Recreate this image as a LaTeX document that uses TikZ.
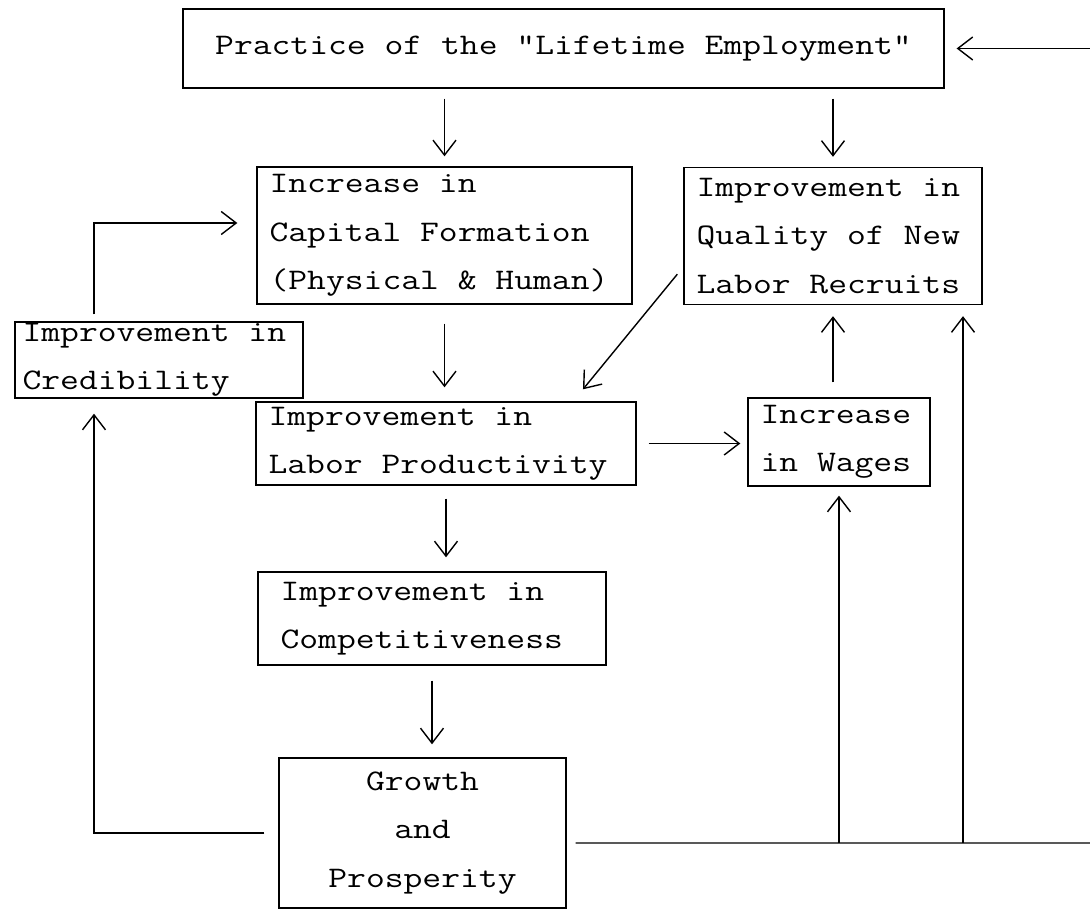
\documentclass[tikz,border=0pt]{standalone}
\usepackage{fontspec}
\setmonofont[FakeStretch=1.224]{Latin Modern Mono}
\usetikzlibrary{arrows.meta}

\tikzset{
  box/.style={rectangle, draw, thick,
    inner xsep=0.25cm, inner ysep=0pt, align=left,
    execute at begin node={\spaceskip=0pt\xspaceskip=0pt\relax}},
  >={Straight Barb[length=3mm,width=4.6mm]}
}

\begin{document}
\begin{tikzpicture}[x=0.02cm, y=-0.02cm, thick,
  font=\ttfamily\fontsize{17}{27.5}\selectfont]

    \useasboundingbox (0,0) rectangle (1090,911);

    \node[box, align=center,
    minimum width=15.22cm,
    minimum height=1.58cm] (prac) at (563.5,48.5)
    {Practice of the "Lifetime Employment"};

    \node[box, text width=7cm,
    minimum height=2.74cm] (cap) at (444.5,235.5)
    {Increase in\\Capital Formation\\(Physical \& Human)};

    \node[box, text width=5.46cm,
    minimum height=2.74cm] (qual) at (833,236)
    {Improvement in\\Quality of New\\Labor Recruits};

    \node[box, inner xsep=0.15cm, text width=5.46cm,
    minimum height=1.52cm] (cred) at (159,360)
    {Improvement in\\Credibility};

    \node[box, text width=7.1cm,
    minimum height=1.66cm] (prod) at (446,443.5)
    {Improvement in\\Labor Productivity};

    \node[box, text width=3.14cm,
    minimum height=1.76cm] (wage) at (839,442)
    {Increase\\in Wages};

    \node[box, inner xsep=0.45cm, text width=6.06cm,
    minimum height=1.86cm] (comp) at (432,618.5)
    {Improvement in\\Competitiveness};

    \node[box, align=center, text width=5.24cm,
    minimum height=3cm] (grow) at (422.5,833)
    {Growth\\and\\Prosperity};

    \coordinate (lft) at (94,833);
    \coordinate (rgt) at (1090,843);
    \coordinate (rvt) at (963,843);
    \coordinate (topr) at (1090,48.5);

    \draw[->, shorten <=0.2cm, shorten >=0.2cm] (prac.south -| cap.north) -- (cap.north);
    \draw[->, shorten <=0.2cm, shorten >=0.2cm] (prac.south -| qual.north) -- (qual.north);
    \draw[->, shorten <=0.38cm, shorten >=0.28cm] (cap.south) -- (cap.south |- prod.north);
    \draw[->] ([xshift=-0.12cm,yshift=0.62cm]qual.south west) -- ([xshift=2.74cm,yshift=0.24cm]prod.north);
    \draw[->, shorten <=0.24cm, shorten >=0.14cm] (prod.east) -- (prod.east -| wage.west);
    \draw[->, shorten <=0.3cm, shorten >=0.22cm] (wage.north -| qual.south) -- (qual.south);
    \draw[->, shorten <=0.26cm, shorten >=0.28cm] (prod.south) -- (prod.south |- comp.north);
    \draw[->, shorten <=0.3cm, shorten >=0.26cm] (comp.south) -- (comp.south |- grow.north);

    \draw[->, shorten <=0.28cm, shorten >=0.3cm] (grow.west) -- (lft) -- (lft |- cred.south);
    \draw[->, shorten <=0.14cm, shorten >=0.38cm] (lft |- cred.north) |- ([yshift=0.25cm]cap.west);
    \draw[shorten <=0.18cm] ([yshift=-0.2cm]grow.east) -- (rgt);
    \draw[->, shorten >=0.18cm] (wage.south |- rgt) -- (wage.south);
    \draw[->, shorten >=0.22cm] (rvt) -- (rvt |- qual.south);
    \draw[->, shorten >=0.24cm] (topr) -- (prac.east);
\end{tikzpicture}
\end{document}
